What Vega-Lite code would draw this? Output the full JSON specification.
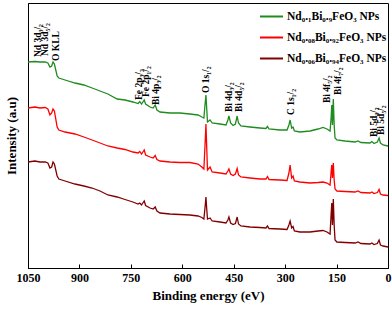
{
  "$schema": "https://vega.github.io/schema/vega-lite/v6.json",
  "width": 360,
  "height": 265,
  "autosize": {"type": "none"},
  "padding": {"left": 28, "top": 3, "right": 4, "bottom": 44},
  "config": {
    "view": {"stroke": "black", "strokeWidth": 1},
    "font": "Liberation Serif",
    "axis": {"grid": false, "domainColor": "black", "tickColor": "black", "labelColor": "black", "titleColor": "black", "labelFont": "Liberation Serif", "titleFont": "Liberation Serif", "labelFontWeight": "bold", "titleFontWeight": "bold"}
  },
  "data": {"values": [
    {"e":1050,"g":206,"r":160,"d":106},
    {"e":1030,"g":206.5,"r":161,"d":107},
    {"e":1015,"g":206,"r":160,"d":106},
    {"e":1000,"g":206,"r":160.5,"d":106},
    {"e":992,"g":205,"r":159,"d":105},
    {"e":986,"g":201,"r":153,"d":100},
    {"e":981,"g":202,"r":155,"d":101},
    {"e":977,"g":206,"r":159,"d":106},
    {"e":973,"g":204,"r":157,"d":104},
    {"e":965,"g":192,"r":141,"d":92},
    {"e":960,"g":190,"r":138,"d":89},
    {"e":942,"g":188,"r":136,"d":87},
    {"e":913,"g":185,"r":134,"d":84},
    {"e":887,"g":183,"r":131,"d":82},
    {"e":863,"g":180,"r":128,"d":80},
    {"e":840,"g":177,"r":125,"d":77},
    {"e":817,"g":174,"r":122,"d":73},
    {"e":790,"g":169,"r":120,"d":71},
    {"e":767,"g":168,"r":118.5,"d":68.5},
    {"e":744,"g":166,"r":116,"d":66},
    {"e":729,"g":164.5,"r":115,"d":64},
    {"e":724,"g":166.5,"r":116.5,"d":65},
    {"e":719,"g":164,"r":114,"d":63},
    {"e":711,"g":168,"r":118,"d":67},
    {"e":707,"g":164,"r":113,"d":62.5},
    {"e":694,"g":161,"r":111,"d":60},
    {"e":685,"g":160,"r":110,"d":59},
    {"e":679,"g":163,"r":112.5,"d":61},
    {"e":674,"g":158,"r":108.5,"d":57},
    {"e":665,"g":156,"r":107,"d":55},
    {"e":636,"g":155,"r":106,"d":54},
    {"e":607,"g":155,"r":105.5,"d":53.5},
    {"e":578,"g":154,"r":105.5,"d":53},
    {"e":554,"g":153,"r":104,"d":52},
    {"e":543,"g":151,"r":101,"d":50.5},
    {"e":537,"g":150,"r":99,"d":49},
    {"e":533,"g":166,"r":128,"d":63},
    {"e":531,"g":173,"r":144,"d":71},
    {"e":528.5,"g":158,"r":118,"d":58},
    {"e":526.5,"g":146,"r":98,"d":49},
    {"e":519,"g":148,"r":101,"d":50},
    {"e":513,"g":145,"r":96,"d":47},
    {"e":490,"g":144,"r":95,"d":46},
    {"e":472.5,"g":143,"r":94,"d":45},
    {"e":467,"g":148,"r":97,"d":48},
    {"e":464,"g":152,"r":99,"d":51},
    {"e":459,"g":145,"r":94,"d":45},
    {"e":452,"g":142.5,"r":92.5,"d":43.5},
    {"e":445,"g":144,"r":94,"d":44.5},
    {"e":440,"g":152,"r":99.5,"d":51},
    {"e":436,"g":145,"r":93,"d":44},
    {"e":429,"g":142,"r":91,"d":42},
    {"e":402.5,"g":141,"r":90,"d":41},
    {"e":373.5,"g":140,"r":89,"d":40.5},
    {"e":356,"g":139.5,"r":89,"d":40},
    {"e":351.5,"g":141.5,"r":91.5,"d":42},
    {"e":347,"g":139,"r":88.5,"d":39.5},
    {"e":315,"g":138,"r":88,"d":39},
    {"e":294.5,"g":138,"r":87.5,"d":38.5},
    {"e":289,"g":143,"r":95,"d":43},
    {"e":285.5,"g":148,"r":103,"d":47},
    {"e":281,"g":140,"r":90,"d":40},
    {"e":277,"g":141,"r":92,"d":41.5},
    {"e":273,"g":137,"r":87,"d":37},
    {"e":257,"g":136,"r":86,"d":36},
    {"e":227.5,"g":137,"r":85,"d":36},
    {"e":204,"g":139,"r":85.5,"d":37},
    {"e":189.5,"g":140.5,"r":86,"d":37.5},
    {"e":178,"g":139,"r":85,"d":36},
    {"e":169,"g":137,"r":83,"d":34},
    {"e":166,"g":150,"r":96,"d":53},
    {"e":164,"g":163,"r":103,"d":65},
    {"e":162,"g":143,"r":90,"d":43},
    {"e":159.5,"g":169,"r":105,"d":69},
    {"e":157,"g":143,"r":88,"d":43},
    {"e":154.5,"g":130,"r":79,"d":28},
    {"e":149,"g":128,"r":77,"d":26},
    {"e":125.5,"g":127,"r":76.5,"d":25.5},
    {"e":96,"g":126,"r":76,"d":25},
    {"e":87.5,"g":127,"r":77,"d":26},
    {"e":79,"g":125.5,"r":75.5,"d":24.5},
    {"e":52.5,"g":125,"r":75,"d":24},
    {"e":47,"g":126.5,"r":76,"d":25},
    {"e":41,"g":124.5,"r":74.5,"d":23.5},
    {"e":31,"g":126,"r":75.5,"d":24.5},
    {"e":26,"g":130,"r":78.5,"d":28},
    {"e":22,"g":125,"r":74,"d":23},
    {"e":14.5,"g":123,"r":73,"d":22},
    {"e":0,"g":122,"r":72.5,"d":21}
  ]},
  "layer": [
    {
      "transform": [{"fold": ["g", "r", "d"], "as": ["s", "i"]}],
      "mark": {"type": "line", "strokeWidth": 1.3},
      "encoding": {
        "x": {"field": "e", "type": "quantitative",
          "scale": {"domain": [0, 1050], "reverse": true, "nice": false},
          "axis": {"title": "Binding energy (eV)", "values": [1050,975,900,825,750,675,600,525,450,375,300,225,150,75,0], "format": "d",
            "labelExpr": "datum.value % 150 == 0 ? datum.label : ''", "labelFlush": false, "labelFontSize": 12, "titleFontSize": 13,
            "tickSize": -4, "labelPadding": 8, "titlePadding": 6}},
        "y": {"field": "i", "type": "quantitative",
          "scale": {"domain": [0, 265], "nice": false, "zero": false},
          "axis": {"title": "Intensity (a.u)", "labels": false, "ticks": false, "titleFontSize": 13, "titlePadding": 10}},
        "color": {"field": "s", "type": "nominal",
          "scale": {"domain": ["g", "r", "d"], "range": ["#1e8c1e", "#ff0000", "#800000"]},
          "legend": {"title": null, "orient": "top-right", "offset": 1, "padding": 0, "symbolType": "stroke", "symbolSize": 529, "symbolStrokeWidth": 2,
            "labelFont": "Liberation Serif", "labelFontWeight": "bold", "labelFontSize": 11.5, "labelColor": "black", "labelOffset": 3, "rowPadding": 3,
            "labelExpr": "datum.value == 'g' ? 'Nd₀.₁Bi₀.₉FeO₃  NPs' : datum.value == 'r' ? 'Nd₀.₀₈Bi₀.₉₂FeO₃ NPs' : 'Nd₀.₀₆Bi₀.₉₄FeO₃ NPs'"}}
      }
    },
    {
      "data": {"values": [
        {"e":1020.8,"i":211,"t":"Nd 3d₃/₂"},
        {"e":1000.4,"i":212,"t":"Nd 3d₅/₂"},
        {"e":968.3,"i":207,"t":"O KLL"},
        {"e":724.8,"i":168,"t":"Fe 2p₃/₂"},
        {"e":705.8,"i":171,"t":"Fe 2p₁/₂"},
        {"e":678,"i":163,"t":"Bi 4p₃/₂"},
        {"e":531,"i":175,"t":"O 1s₁/₂"},
        {"e":465,"i":156,"t":"Bi 4d₃/₂"},
        {"e":436,"i":156,"t":"Bi 4d₅/₂"},
        {"e":281.5,"i":153,"t":"C 1s₁/₂"},
        {"e":178,"i":165,"t":"Bi 4f₅/₂"},
        {"e":146,"i":173,"t":"Bi 4f₇/₂"},
        {"e":41,"i":131,"t":"Bi 5d₃/₂"},
        {"e":20.4,"i":133,"t":"Bi 5d₅/₂"}
      ]},
      "mark": {"type": "text", "angle": 270, "align": "left", "baseline": "middle", "font": "Liberation Serif", "fontWeight": "bold", "fontSize": 9.5, "color": "black"},
      "encoding": {
        "x": {"field": "e", "type": "quantitative"},
        "y": {"field": "i", "type": "quantitative"},
        "text": {"field": "t"}
      }
    }
  ]
}
